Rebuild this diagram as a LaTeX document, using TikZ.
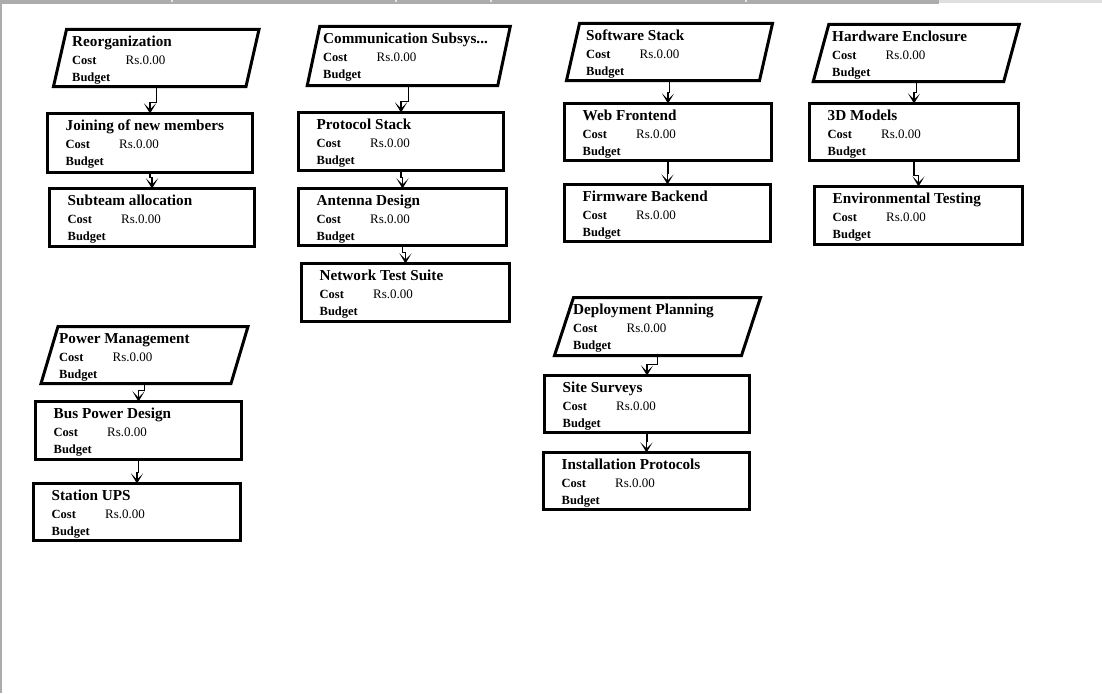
\documentclass[tikz,border=0pt]{standalone}
\usepackage{fontspec}
\setmainfont{Liberation Serif}
\usetikzlibrary{calc,arrows.meta}
\tikzset{
  box/.style={draw=black, line width=3pt, inner sep=0pt, outer sep=0pt, anchor=north west},
  pbox/.style={draw=none, inner sep=0pt, outer sep=0pt, anchor=north west},
  pline/.style={draw=black, line width=3pt, line join=miter},
  ttl/.style={anchor=base west, inner sep=0pt, font=\bfseries\fontsize{15.2}{16}\selectfont},
  lbl/.style={anchor=base west, inner sep=0pt, font=\bfseries\fontsize{12.5}{13}\selectfont},
  val/.style={anchor=base west, inner sep=0pt, font=\fontsize{13}{14}\selectfont},
  conn/.style={draw=black, line width=1.2pt, -{Stealth[length=10pt,width=12pt,inset=6pt,line width=1.2pt]}},
}
\newcommand\boxtexts[3]{%
  \node[ttl] (#1-t) at ($(#1.north west)+(#2,17)$) {#3};
  \node[lbl] (#1-c) at ($(#1.north west)+(#2,35)$) {Cost};
  \node[val] (#1-v) at ($(#1.north west)+({#2+53.5},35)$) {Rs.0.00};
  \node[lbl] (#1-b) at ($(#1.north west)+(#2,52)$) {Budget};}
\newcommand\rbox[6]{%
  \node[box, minimum width={#4-#2-3}, minimum height={#5-#3-3}] (#1) at ({#2+1.5},{#3+1.5}) {};
  \boxtexts{#1}{18}{#6}}
\newcommand\pbox[8]{%
  \node[pbox, minimum width={#4-#2-3}, minimum height={#5-#3-3}] (#1) at ({#2+1.5},{#3+1.5}) {};
  \draw[pline] ($(#1.north west)+({#6/2},0)$) -- ($(#1.north east)+({#6/2},0)$)
     -- ($(#1.south east)-({#6/2},0)$) -- ($(#1.south west)-({#6/2},0)$) -- cycle;
  \boxtexts{#1}{#7}{#8}}
\newcommand\conn[2]{%
  \draw[conn] (#1.south) -- ($(#1.south |- #2.north)+(0,-11)$) -| (#2.north);}
\begin{document}
\begin{tikzpicture}[x=1pt,y=-1pt]
\useasboundingbox (0,0) rectangle (1102,693);
\fill[white] (0,0) rectangle (1102,693);
% window frame
\fill[gray!65] (0,0) rectangle (939,4);
\fill[gray!25] (939,0) rectangle (1102,3);
\foreach \xx in {172,396,491,746} \fill[gray!20] (\xx-1,0) rectangle (\xx+1,2);
\fill[gray!65] (0,0) rectangle (1.5,693);

% parallelograms
\pbox{reorg}{58.5}{28}{254}{88}{13}{12}{Reorganization}
\pbox{comm}{312}{25}{505.5}{87}{12.5}{9.5}{Communication Subsys...}
\pbox{soft}{571.5}{22}{767.5}{82}{13}{13}{Software Stack}
\pbox{hw}{819.5}{23}{1013}{83}{15.5}{11}{Hardware Enclosure}
\pbox{deploy}{562.5}{296}{752.5}{357}{19}{9}{Deployment Planning}
\pbox{power}{48}{325}{241}{385}{17}{9.5}{Power Management}

% rectangles
\rbox{join}{46}{112}{254}{174}{Joining of new members}
\rbox{sub}{48}{187}{256}{248}{Subteam allocation}
\rbox{proto}{297}{111}{505}{172}{Protocol Stack}
\rbox{ant}{297}{187}{508}{247}{Antenna Design}
\rbox{net}{300}{262}{511}{323}{Network Test Suite}
\rbox{web}{563}{102}{773}{162}{Web Frontend}
\rbox{firm}{563}{183}{772}{243}{Firmware Backend}
\rbox{mthree}{808}{102}{1020}{162}{3D Models}
\rbox{env}{813}{185}{1024}{246}{Environmental Testing}
\rbox{site}{543}{374}{751}{434}{Site Surveys}
\rbox{inst}{542}{451}{751}{511}{Installation Protocols}
\rbox{bus}{34}{400}{243}{461}{Bus Power Design}
\rbox{ups}{32}{482}{242}{542}{Station UPS}

% connectors
\conn{reorg}{join}
\conn{join}{sub}
\conn{comm}{proto}
\conn{proto}{ant}
\conn{ant}{net}
\conn{soft}{web}
\conn{web}{firm}
\conn{hw}{mthree}
\conn{mthree}{env}
\conn{deploy}{site}
\conn{site}{inst}
\conn{power}{bus}
\conn{bus}{ups}
\end{tikzpicture}
\end{document}
